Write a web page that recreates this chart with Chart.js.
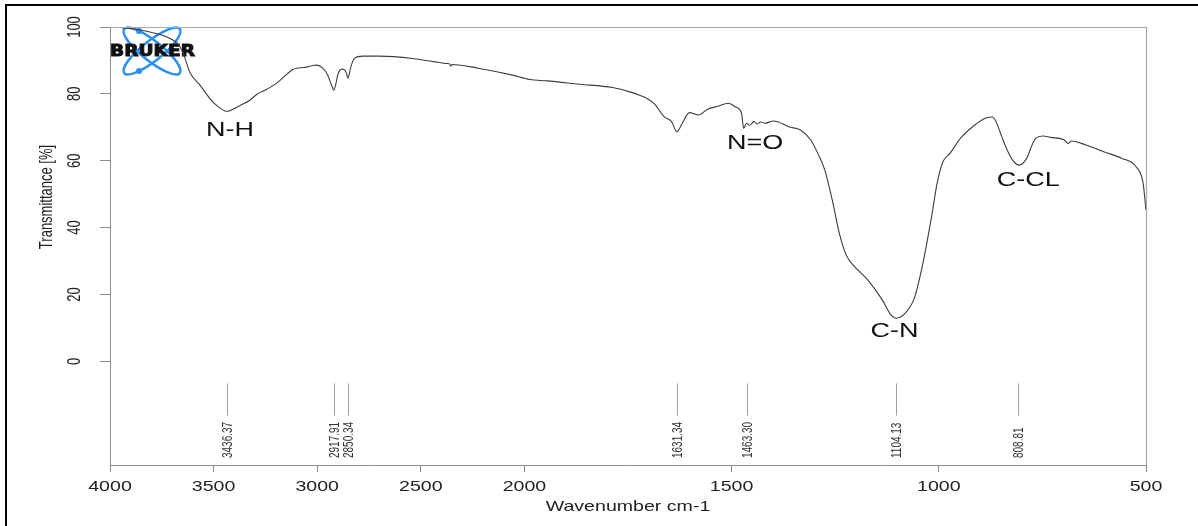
<!DOCTYPE html>
<html>
<head>
<meta charset="utf-8">
<script src="https://cdn.jsdelivr.net/npm/chart.js@4.4.1/dist/chart.umd.min.js"></script>
<style>
  html, body { margin: 0; padding: 0; background: #fff; }
  canvas { display: block; }
</style>
</head>
<body>
<canvas id="ir-spectrum" width="1198" height="526"></canvas>
<script>
// FTIR spectrum (Bruker OPUS style, x axis folded 2:1 above 2000 cm-1)
const wavenumbers = [
  4000, 3952, 3855, 3807, 3725, 3662, 3640, 3614, 3566, 3503, 3470, 3445, 3431, 3407,
  3370, 3325, 3291, 3243, 3195, 3146, 3118, 3084, 3050, 3020, 3002, 2973, 2949, 2930,
  2920, 2910, 2901, 2881, 2867, 2858, 2852, 2845, 2838, 2819, 2780, 2698, 2539, 2375,
  2360, 2355, 2350, 2216, 2057, 1987, 1946, 1867, 1787, 1746, 1722, 1705, 1688, 1662,
  1645, 1632, 1619, 1602, 1580, 1558, 1533, 1508, 1491, 1476, 1471, 1464, 1456, 1447,
  1438, 1430, 1420, 1399, 1360, 1334, 1309, 1292, 1275, 1257, 1240, 1223, 1206, 1171,
  1136, 1115, 1103, 1081, 1059, 1042, 1029, 1016, 1004, 990, 973, 948, 913, 888, 870,
  862, 848, 835, 822, 806, 788, 775, 766, 749, 731, 697, 688, 679, 645, 602, 558, 524,
  507, 500
];
const transmittance = [
  100, 99.9, 99.1, 98.5, 97.0, 94.1, 91.0, 86.4, 82.6, 77.5, 75.8, 74.9, 74.8, 75.4,
  76.6, 78.1, 79.9, 81.4, 83.2, 85.9, 87.3, 87.8, 88.0, 88.5, 88.6, 87.7, 85.6, 82.5,
  81.1, 83.0, 85.6, 87.4, 87.1, 86.0, 84.7, 86.0, 88.0, 90.7, 91.3, 91.3, 90.6, 89.1,
  88.9, 88.3, 88.8, 87.6, 85.6, 84.3, 83.9, 82.9, 81.9, 80.6, 79.6, 78.7, 77.2, 73.1,
  71.7, 68.7, 71.2, 74.4, 73.7, 75.4, 76.3, 77.2, 76.1, 74.2, 69.7, 71.2, 70.6, 71.7,
  71.0, 71.6, 71.2, 71.9, 70.1, 69.2, 66.2, 62.2, 57.2, 48.2, 38.3, 31.7, 28.7, 24.3,
  18.3, 13.8, 12.9, 14.4, 18.9, 27.2, 35.3, 44.3, 53.3, 59.7, 62.2, 66.7, 70.7, 72.7, 73.1,
  71.7, 67.2, 63.2, 60.2, 58.7, 60.7, 64.7, 66.7, 67.4, 67.0, 66.2, 65.2, 65.9, 64.7, 62.7, 60.7, 58.2,
  53.3, 45.2
];
const xTicks = [4000, 3500, 3000, 2500, 2000, 1500, 1000, 500];
const yTicks = [0, 20, 40, 60, 80, 100];
const peakWavenumbers = [3436.37, 2917.91, 2850.34, 1631.34, 1463.30, 1104.13, 808.81];
const peakLabels = ['3436.37', '2917.91', '2850.34', '1631.34', '1463.30', '1104.13', '808.81'];
const bandNames = ['N-H', 'N=O', 'C-N', 'C-CL'];
const bandWavenumbers = [3421, 1443, 1107, 784];
const bandTransmittance = [69.0, 65.3, 9.0, 54.0];

const FOLD = 2000; // above this wavenumber the axis is drawn at half scale

class FoldedScale extends Chart.LinearScale {
  units(v) {
    return v >= FOLD ? (this.max - v) / 2 : (this.max - FOLD) / 2 + (FOLD - v);
  }
  getPixelForValue(v) {
    return this.getPixelForDecimal(this.units(v) / this.units(this.min));
  }
  getValueForPixel(p) {
    const u = this.getDecimalForPixel(p) * this.units(this.min);
    const top = (this.max - FOLD) / 2;
    return u <= top ? this.max - 2 * u : FOLD - (u - top);
  }
}
FoldedScale.id = 'folded';
FoldedScale.defaults = Chart.LinearScale.defaults;
Chart.register(FoldedScale);

const SX = 1.35; // the original picture is stretched sideways
const AXIS = '#8c8c8c';

function stretchText(ctx, text, x, y, font, opts) {
  ctx.save();
  ctx.translate(x, y);
  ctx.scale(opts.sx || SX, 1);
  if (opts.rot) ctx.rotate(opts.rot);
  ctx.font = font;
  ctx.fillStyle = opts.color || '#222';
  ctx.textAlign = opts.align || 'center';
  ctx.textBaseline = 'middle';
  ctx.fillText(text, 0, 0);
  ctx.restore();
}

const decorations = {
  id: 'decorations',
  beforeDatasetsDraw(chart) {
    const ctx = chart.ctx;
    const a = chart.chartArea;
    // Bruker logo
    const cx = a.left + 42, cy = a.top + 24;
    ctx.save();
    ctx.strokeStyle = '#2f8ff0';
    ctx.fillStyle = '#2f8ff0';
    ctx.lineWidth = 2.6;
    [0.672, -0.672].forEach(r => {
      ctx.beginPath();
      ctx.ellipse(cx, cy, 35.5, 10, r, 0, Math.PI * 2);
      ctx.stroke();
    });
    [[-13, -20], [-13, 20]].forEach(d => {
      ctx.beginPath();
      ctx.arc(cx + d[0], cy + d[1], 3, 0, Math.PI * 2);
      ctx.fill();
    });
    ctx.font = 'bold 15px "DejaVu Sans"';
    const w = ctx.measureText('BRUKER').width;
    ctx.translate(a.left, cy + 1);
    ctx.scale(85 / w, 1);
    ctx.fillStyle = '#111';
    ctx.strokeStyle = '#111';
    ctx.lineWidth = 0.9;
    ctx.textBaseline = 'middle';
    ctx.fillText('BRUKER', 0, 0);
    ctx.strokeText('BRUKER', 0, 0);
    ctx.restore();
  },
  afterDraw(chart) {
    const ctx = chart.ctx;
    const a = chart.chartArea;
    const xs = chart.scales.x, ys = chart.scales.y;

    // box top and right
    ctx.save();
    ctx.strokeStyle = '#a8a8a8';
    ctx.lineWidth = 1.2;
    ctx.beginPath();
    ctx.moveTo(a.left, a.top + 0.5);
    ctx.lineTo(a.right + 0.5, a.top + 0.5);
    ctx.lineTo(a.right + 0.5, a.bottom);
    ctx.stroke();
    ctx.restore();

    // outer frame
    ctx.save();
    ctx.strokeStyle = '#000';
    ctx.lineWidth = 2;
    ctx.beginPath();
    ctx.moveTo(6, 526);
    ctx.lineTo(6, 5);
    ctx.lineTo(1198, 5);
    ctx.stroke();
    ctx.restore();

    // tick labels
    yTicks.forEach(v => {
      stretchText(ctx, String(v), 75, ys.getPixelForValue(v), '13px "Liberation Sans"', { rot: -Math.PI / 2 });
    });
    xTicks.forEach(v => {
      stretchText(ctx, String(v), xs.getPixelForValue(v), 487, '14.5px "Liberation Sans"', {});
    });

    // axis titles
    stretchText(ctx, 'Wavenumber cm-1', (a.left + a.right) / 2, 507, '14.5px "Liberation Sans"', {});
    stretchText(ctx, 'Transmittance [%]', 47, 197, '13px "Liberation Sans"', { rot: -Math.PI / 2 });

    // peak picks
    ctx.save();
    ctx.strokeStyle = '#a0a0a0';
    ctx.lineWidth = 1;
    peakWavenumbers.forEach((wn, i) => {
      const px = Math.round(xs.getPixelForValue(wn)) + 0.5;
      ctx.beginPath();
      ctx.moveTo(px, ys.getPixelForValue(-6.6));
      ctx.lineTo(px, ys.getPixelForValue(-16.2));
      ctx.stroke();
      stretchText(ctx, peakLabels[i], px, 458, '10px "Liberation Sans"', { rot: -Math.PI / 2, align: 'left', sx: 1.5, color: '#333' });
    });
    ctx.restore();

    // band assignments
    bandNames.forEach((name, i) => {
      stretchText(ctx, name, xs.getPixelForValue(bandWavenumbers[i]), ys.getPixelForValue(bandTransmittance[i]),
        '20px "Liberation Sans"', { color: '#111' });
    });
  }
};

new Chart(document.getElementById('ir-spectrum'), {
  type: 'line',
  data: {
    datasets: [{
      data: wavenumbers.map((wn, i) => ({ x: wn, y: transmittance[i] })),
      borderColor: '#3c3c3c',
      borderWidth: 1.1,
      pointRadius: 0,
      cubicInterpolationMode: 'monotone',
      fill: false
    }]
  },
  options: {
    responsive: false,
    animation: false,
    layout: { padding: { left: 0, top: 27, right: 52, bottom: 0 } },
    plugins: { legend: { display: false }, tooltip: { enabled: false } },
    scales: {
      x: {
        type: 'folded',
        min: 500,
        max: 4000,
        afterBuildTicks: s => { s.ticks = xTicks.map(v => ({ value: v })); },
        afterFit: s => { s.height = 61; },
        ticks: { display: false },
        grid: { drawOnChartArea: false, tickLength: 7, color: AXIS },
        border: { display: true, color: AXIS, width: 1 }
      },
      y: {
        type: 'linear',
        min: -31,
        max: 100,
        afterBuildTicks: s => { s.ticks = yTicks.map(v => ({ value: v })); },
        afterFit: s => { s.width = 110; },
        ticks: { display: false },
        grid: { drawOnChartArea: false, tickLength: 10, color: AXIS },
        border: { display: true, color: AXIS, width: 1 }
      }
    }
  },
  plugins: [decorations]
});
</script>
</body>
</html>
